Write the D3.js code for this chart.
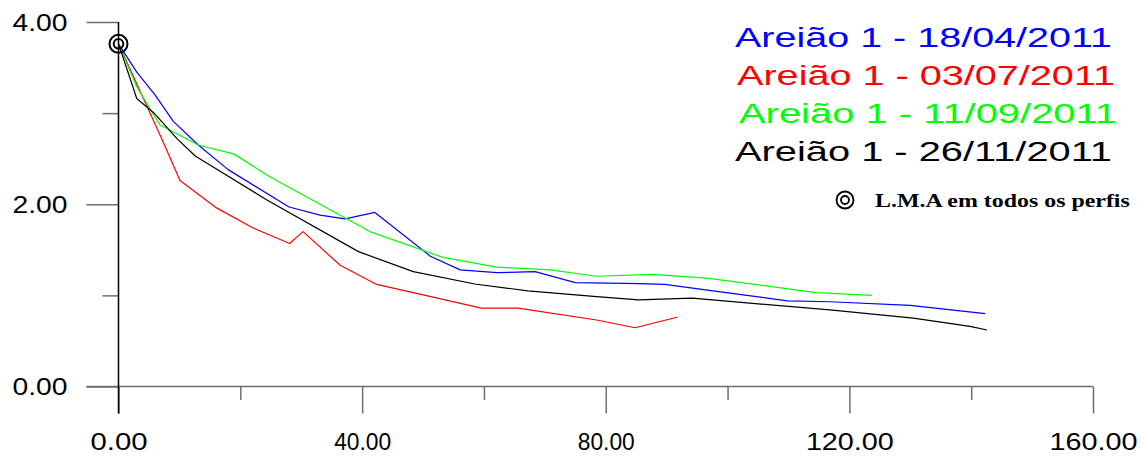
<!DOCTYPE html>
<html>
<head>
<meta charset="utf-8">
<script src="https://cdn.jsdelivr.net/npm/d3@7"></script>
<style>
  body { margin: 0; background: #fff; }
  svg { display: block; }
</style>
</head>
<body>
<svg id="drawing_region"></svg>
<script>
// distance (m) and elevation (m) for each survey
const dist_0418 = [0, 3.0, 6.0, 9.0, 13.1, 18.0, 28.0, 33.1, 37.2, 42.1, 51.2, 56.1, 62.1, 68.4, 75.0, 85.6, 89.7, 97.6, 109.8, 116.8, 130.0, 142.3];
const elev_0418 = [3.76, 3.45, 3.20, 2.91, 2.65, 2.38, 1.97, 1.88, 1.84, 1.91, 1.43, 1.28, 1.25, 1.26, 1.14, 1.13, 1.12, 1.05, 0.94, 0.93, 0.89, 0.80];

const dist_0307 = [0, 7.1, 10.1, 16.1, 22.1, 28.1, 30.3, 36.4, 42.4, 59.6, 65.6, 78.5, 84.8, 91.7];
const elev_0307 = [3.76, 2.72, 2.26, 1.96, 1.74, 1.57, 1.70, 1.33, 1.12, 0.86, 0.86, 0.73, 0.645, 0.76];

const dist_1109 = [0, 3.0, 6.8, 13.1, 19.0, 24.9, 41.3, 53.1, 62.1, 70.9, 78.5, 87.6, 96.6, 114.6, 123.7];
const elev_1109 = [3.76, 3.29, 2.87, 2.65, 2.55, 2.30, 1.70, 1.42, 1.31, 1.28, 1.21, 1.23, 1.19, 1.03, 1.00];

const dist_2611 = [0, 3.0, 6.0, 9.6, 12.6, 24.3, 39.4, 48.4, 58.5, 67.2, 78.0, 85.4, 94.2, 116.8, 130.5, 139.8, 142.6];
const elev_2611 = [3.76, 3.16, 2.99, 2.72, 2.53, 2.05, 1.48, 1.26, 1.125, 1.05, 0.99, 0.95, 0.97, 0.84, 0.75, 0.66, 0.62];

const series_names = ["Areião 1 - 18/04/2011", "Areião 1 - 03/07/2011", "Areião 1 - 11/09/2011", "Areião 1 - 26/11/2011"];
const series_colors = ["#0000ff", "#ff0000", "#00ff00", "#000000"];

const x_ticks = [0, 20, 40, 60, 80, 100, 120, 140, 160];
const y_ticks = [0, 1, 2, 3, 4];
const lma_label = "L.M.A em todos os perfis";
const lma_point = [0, 3.76];

const width = 1144, height = 457;

const svg = d3.select('#drawing_region')
    .attr('width', width)
    .attr('height', height);

const x = d3.scaleLinear().domain([0, 160]).range([118.5, 1093]);
const y = d3.scaleLinear().domain([0, 4]).range([386.5, 22]);

// x axis
const xAxis = svg.append('g')
    .attr('transform', `translate(0, ${y(0)})`)
    .call(d3.axisBottom(x)
        .tickValues(x_ticks)
        .tickSize(27)
        .tickPadding(22)
        .tickFormat(d => d % 40 === 0 ? d.toFixed(2) : ""));
xAxis.select('.domain').remove();
xAxis.selectAll('.tick line')
    .attr('stroke', '#6e6e6e')
    .attr('stroke-width', 1.5)
    .attr('y2', d => d % 40 === 0 ? 27 : 13.5);
xAxis.selectAll('.tick text')
    .attr('fill', '#000')
    .attr('font-family', 'Liberation Sans, Arial, sans-serif')
    .attr('font-size', 23)
    .attr('dy', '0')
    .attr('y', 63)
    .attr('textLength', d => d >= 100 ? 88 : 57)
    .attr('lengthAdjust', 'spacingAndGlyphs');

// y axis
const yAxis = svg.append('g')
    .attr('transform', `translate(${x(0)}, 0)`)
    .call(d3.axisLeft(y)
        .tickValues(y_ticks)
        .tickSize(32)
        .tickPadding(19)
        .tickFormat(d => d % 2 === 0 ? d.toFixed(2) : ""));
yAxis.select('.domain').remove();
yAxis.selectAll('.tick line')
    .attr('stroke', '#6e6e6e')
    .attr('stroke-width', 1.5)
    .attr('x2', d => d % 2 === 0 ? -32 : -16);
yAxis.selectAll('.tick text')
    .attr('fill', '#000')
    .attr('font-family', 'Liberation Sans, Arial, sans-serif')
    .attr('font-size', 23)
    .attr('dy', '0.36em')
    .attr('textLength', 55)
    .attr('lengthAdjust', 'spacingAndGlyphs');

// axis lines
svg.append('line')
    .attr('x1', x(0) - 32).attr('x2', x(160))
    .attr('y1', y(0)).attr('y2', y(0))
    .attr('stroke', '#6e6e6e')
    .attr('stroke-width', 1.5);
svg.append('line')
    .attr('x1', x(0)).attr('x2', x(0))
    .attr('y1', y(4)).attr('y2', y(0) + 27)
    .attr('stroke', '#000')
    .attr('stroke-width', 1.5);

// profiles
const profiles = [
    [dist_0418, elev_0418],
    [dist_0307, elev_0307],
    [dist_1109, elev_1109],
    [dist_2611, elev_2611]
];
const line = d3.line()
    .x(d => x(d[0]))
    .y(d => y(d[1]));

svg.append('g').selectAll('path')
    .data(profiles)
    .join('path')
    .attr('d', p => line(d3.zip(p[0], p[1])))
    .attr('fill', 'none')
    .attr('stroke', (p, i) => series_colors[i])
    .attr('stroke-width', 1.2)
    .attr('stroke-linejoin', 'round');

// L.M.A marker
function target(g, cx, cy, r1, r2, sw) {
    g.append('circle').attr('cx', cx).attr('cy', cy).attr('r', r1)
        .attr('fill', 'none').attr('stroke', '#000').attr('stroke-width', sw);
    g.append('circle').attr('cx', cx).attr('cy', cy).attr('r', r2)
        .attr('fill', 'none').attr('stroke', '#000').attr('stroke-width', sw);
}
const marker = svg.append('g');
target(marker, x(lma_point[0]), y(lma_point[1]), 9, 4.8, 2);

// legend
const legend = svg.append('g');
const legend_x = [735, 737, 739, 735];
const legend_w = [377, 378, 378, 377];
legend.selectAll('text')
    .data(series_names)
    .join('text')
    .attr('x', (d, i) => legend_x[i])
    .attr('y', (d, i) => 47 + i * 38)
    .attr('fill', (d, i) => series_colors[i])
    .attr('font-family', 'Liberation Sans, Arial, sans-serif')
    .attr('font-size', 28)
    .attr('textLength', (d, i) => legend_w[i])
    .attr('lengthAdjust', 'spacingAndGlyphs')
    .text(d => d);

target(legend, 845, 200, 8.5, 4, 1.8);
// stretched bold serif label
const lma = legend.append('text')
    .attr('x', 0)
    .attr('y', 0)
    .attr('font-family', 'Liberation Serif, Times New Roman, serif')
    .attr('font-weight', 'bold')
    .attr('font-size', 18.5)
    .text(lma_label);
const lw = lma.node().getComputedTextLength();
lma.attr('transform', `translate(875, 207) scale(${255 / lw}, 1)`);
</script>
</body>
</html>
